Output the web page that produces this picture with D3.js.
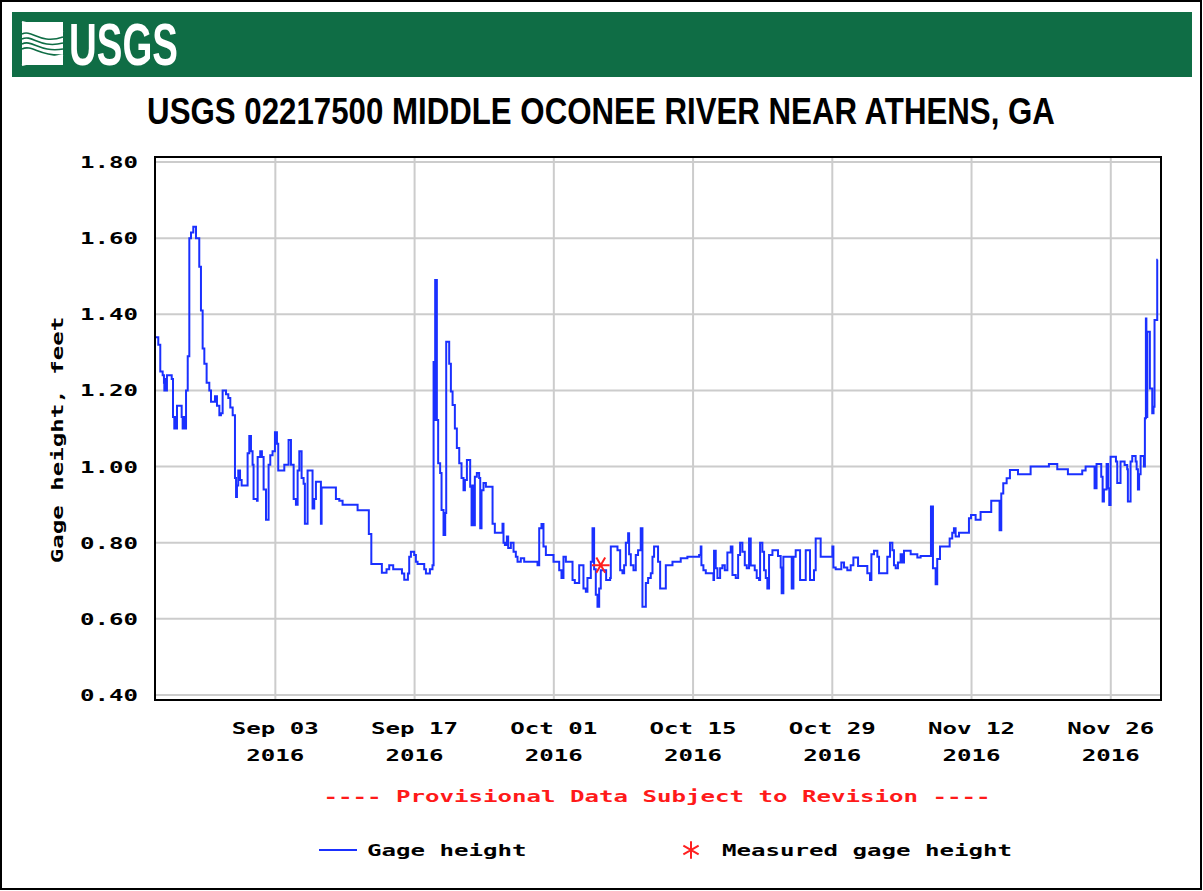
<!DOCTYPE html>
<html lang="en">
<head>
<meta charset="utf-8">
<title>USGS 02217500 Middle Oconee River near Athens, GA</title>
<style>
  body { margin: 0; background: #fff; }
  svg { display: block; }
  .mono { font-family: 'DejaVu Sans Mono', monospace; font-size: 16px; font-weight: bold; }
</style>
<script src="https://d3js.org/d3.v7.min.js" charset="utf-8"></script>
</head>
<body>
<svg id="chart" width="1203" height="891"></svg>
<script>
// ---- data ----
const startDate = "2016-08-22";
// days after startDate (00:00)
const dayOffset = [
  0.00, 0.23, 0.43, 0.67, 0.80, 0.84, 0.92, 0.97, 1.10, 1.58, 1.71, 1.84, 1.98, 2.05, 2.11,
  2.58, 2.68, 2.80, 2.86, 3.02, 3.19, 3.35, 3.52, 3.75, 4.02, 4.35, 4.52, 4.69, 4.86, 5.09,
  5.36, 5.53, 5.93, 6.13, 6.37, 6.53, 6.70, 7.04, 7.27, 7.47, 7.71, 7.94, 8.05, 8.14, 8.27,
  8.45, 8.61, 9.21, 9.38, 9.55, 9.71, 9.81, 10.15, 10.22, 10.48, 10.65, 10.82, 11.06, 11.32, 11.49,
  11.72, 11.96, 12.16, 12.29, 12.73, 12.90, 13.33, 13.57, 13.84, 14.07, 14.24, 14.41, 14.64, 14.84, 14.97,
  15.24, 15.74, 15.91, 16.08, 16.58, 16.65, 18.09, 18.43, 18.76, 20.27, 21.40, 21.65, 22.71, 23.18, 23.45,
  23.85, 24.73, 24.96, 25.33, 25.46, 25.63, 25.96, 26.13, 26.30, 26.97, 27.14, 27.54, 27.80, 27.91, 27.97,
  28.07, 28.24, 28.37, 28.57, 28.71, 28.91, 29.08, 29.18, 29.48, 29.65, 29.82, 30.05, 30.25, 30.49, 30.72,
  30.92, 31.06, 31.26, 31.59, 31.73, 31.80, 31.86, 32.06, 32.26, 32.49, 32.60, 32.73, 32.93, 33.17, 33.84,
  34.07, 34.84, 34.94, 35.08, 35.28, 35.41, 35.68, 35.95, 36.18, 36.35, 36.68, 37.02, 38.36, 38.53, 38.76,
  38.96, 39.20, 39.97, 40.54, 40.77, 40.97, 41.21, 41.88, 42.11, 42.55, 42.98, 43.22, 43.38, 43.72, 43.89,
  44.05, 44.22, 44.39, 44.56, 44.72, 45.26, 45.66, 45.73, 46.40, 46.67, 46.90, 47.07, 47.24, 47.47, 47.57,
  47.74, 48.01, 48.24, 48.47, 48.74, 48.91, 49.25, 49.48, 49.75, 49.92, 50.08, 50.48, 50.69, 51.26, 51.93,
  52.76, 53.43, 54.61, 54.77, 54.84, 55.04, 55.28, 56.05, 56.11, 56.28, 56.45, 56.72, 56.95, 57.19, 57.45,
  57.79, 57.96, 58.29, 58.53, 58.73, 58.96, 59.20, 59.40, 59.63, 59.80, 60.20, 60.40, 60.64, 60.74, 60.97,
  61.14, 61.31, 61.47, 61.64, 61.98, 62.54, 62.81, 62.91, 63.08, 63.92, 64.09, 64.32, 64.76, 65.33, 65.76,
  66.16, 66.33, 66.83, 68.01, 68.11, 68.34, 68.91, 69.18, 69.51, 69.85, 70.12, 70.59, 71.52, 71.79, 71.93,
  72.19, 72.53, 72.70, 73.53, 73.80, 74.04, 74.20, 74.37, 74.60, 74.87, 75.04, 75.21, 75.88, 76.55, 76.88,
  77.89, 77.92, 78.12, 78.39, 78.55, 78.83, 79.80, 80.06, 80.23, 80.40, 80.74, 81.74, 81.95, 82.41, 82.91,
  83.98, 84.82, 84.99, 85.19, 85.53, 85.86, 86.67, 87.94, 89.78, 90.62, 91.69, 93.13, 93.47, 94.37, 94.57,
  95.04, 95.18, 95.31, 95.58, 95.72, 95.85, 95.98, 96.52, 96.65, 96.98, 97.39, 97.65, 97.72, 97.99, 98.16,
  98.50, 98.60, 98.73, 98.85, 99.00, 99.33, 99.43, 99.53, 99.58, 99.67, 99.93, 100.17, 100.30, 100.40, 100.67,
  100.72
];
// gage height, feet
const gageFt = [
  1.34, 1.32, 1.25, 1.24, 1.22, 1.20, 1.23, 1.20, 1.24, 1.23, 1.13, 1.10, 1.13, 1.10, 1.16,
  1.13, 1.10, 1.13, 1.10, 1.20, 1.29, 1.60, 1.615, 1.63, 1.60, 1.525, 1.41, 1.31, 1.27, 1.22,
  1.20, 1.17, 1.185, 1.16, 1.135, 1.14, 1.20, 1.19, 1.18, 1.155, 1.135, 0.97, 0.92, 0.95, 0.99,
  0.965, 0.95, 1.035, 1.08, 1.04, 1.005, 0.915, 0.91, 1.025, 1.04, 1.025, 0.94, 0.86, 1.005, 1.03,
  1.04, 1.09, 1.06, 0.99, 0.99, 1.005, 1.07, 1.005, 0.915, 0.90, 0.99, 1.04, 0.97, 0.955, 0.85,
  0.99, 0.89, 0.915, 0.96, 0.85, 0.945, 0.915, 0.91, 0.90, 0.885, 0.823, 0.744, 0.721, 0.73, 0.741,
  0.73, 0.719, 0.703, 0.719, 0.763, 0.776, 0.768, 0.75, 0.744, 0.73, 0.719, 0.73, 0.741, 1.275, 1.122,
  1.49, 1.122, 1.009, 0.983, 0.886, 0.82, 0.878, 1.328, 1.27, 1.197, 1.162, 1.10, 1.049, 1.009, 0.97,
  0.938, 0.965, 1.017, 0.947, 0.846, 0.95, 0.846, 0.973, 0.983, 0.97, 0.838, 0.938, 0.957, 0.947, 0.85,
  0.826, 0.85, 0.80, 0.794, 0.816, 0.786, 0.80, 0.776, 0.763, 0.75, 0.759, 0.75, 0.741, 0.838, 0.849,
  0.79, 0.768, 0.75, 0.728, 0.707, 0.763, 0.75, 0.702, 0.694, 0.741, 0.68, 0.671, 0.707, 0.75, 0.838,
  0.73, 0.663, 0.632, 0.68, 0.728, 0.702, 0.707, 0.79, 0.78, 0.728, 0.72, 0.741, 0.80, 0.825, 0.77,
  0.741, 0.728, 0.768, 0.78, 0.838, 0.632, 0.694, 0.707, 0.72, 0.763, 0.79, 0.75, 0.68, 0.741, 0.75,
  0.759, 0.763, 0.768, 0.79, 0.741, 0.728, 0.72, 0.702, 0.779, 0.733, 0.707, 0.733, 0.741, 0.728, 0.774,
  0.79, 0.715, 0.707, 0.768, 0.80, 0.776, 0.741, 0.733, 0.811, 0.74, 0.728, 0.707, 0.702, 0.80, 0.776,
  0.728, 0.707, 0.68, 0.768, 0.78, 0.765, 0.735, 0.667, 0.763, 0.68, 0.763, 0.78, 0.702, 0.78, 0.702,
  0.728, 0.811, 0.763, 0.79, 0.735, 0.73, 0.748, 0.735, 0.728, 0.741, 0.761, 0.739, 0.72, 0.702, 0.77,
  0.779, 0.763, 0.72, 0.763, 0.80, 0.78, 0.741, 0.733, 0.748, 0.77, 0.748, 0.779, 0.77, 0.761, 0.765,
  0.765, 0.895, 0.733, 0.691, 0.757, 0.79, 0.811, 0.826, 0.838, 0.816, 0.826, 0.864, 0.873, 0.86, 0.881,
  0.91, 0.833, 0.929, 0.956, 0.969, 0.991, 0.98, 1.0, 1.007, 0.993, 0.98, 0.99, 1.0, 0.943, 1.007,
  0.973, 0.908, 0.94, 1.007, 0.943, 0.899, 1.026, 1.013, 0.957, 1.013, 1.004, 0.993, 0.908, 1.013, 1.028,
  1.013, 0.993, 0.94, 0.98, 1.028, 1.0, 1.127, 1.389, 1.13, 1.354, 1.205, 1.14, 1.157, 1.385, 1.543,
  1.543
];
// field measurement
const measuredDay = [44.72];
const measuredFt = [0.741];

const yTicks = [0.40, 0.60, 0.80, 1.00, 1.20, 1.40, 1.60, 1.80];
const xTickDates = ["2016-09-03", "2016-09-17", "2016-10-01", "2016-10-15", "2016-10-29", "2016-11-12", "2016-11-26"];
const xTickLabels = ["Sep 03", "Sep 17", "Oct 01", "Oct 15", "Oct 29", "Nov 12", "Nov 26"];
const xTickYears = ["2016", "2016", "2016", "2016", "2016", "2016", "2016"];

const CH = 14.5; // px per char of the mono labels

const parse = d3.utcParse("%Y-%m-%d");
const t0 = parse(startDate);
const toDate = d => new Date(t0.getTime() + d * 864e5);

const series = dayOffset.map((d, i) => ({ date: toDate(d), v: gageFt[i] }));
const measured = measuredDay.map((d, i) => ({ date: toDate(d), v: measuredFt[i] }));

const svg = d3.select("#chart");

// squeeze a text to a target width with a transform, anchored at (cx, by)
function fitText(sel, cx, by, w, anchor) {
  const n = sel.node().getComputedTextLength();
  const k = w / n;
  sel.attr("x", 0).attr("y", 0)
    .attr("transform", `translate(${cx},${by}) scale(${k},1)`)
    .attr("text-anchor", anchor);
}

// outer frame
svg.append("rect")
  .attr("x", 1).attr("y", 1).attr("width", 1200).attr("height", 888)
  .attr("fill", "#fff").attr("stroke", "#000").attr("stroke-width", 2);

// ---- header band with logo ----
svg.append("rect")
  .attr("x", 12).attr("y", 12).attr("width", 1180).attr("height", 65)
  .attr("fill", "#0f6d45");

const logo = svg.append("g");
logo.append("rect").attr("x", 22).attr("y", 22).attr("width", 41).attr("height", 43).attr("fill", "#fff");
[0, 1, 2, 3].forEach(k => {
  logo.append("path")
    .attr("d", `M22,${34 + k * 5} C32,${29 + k * 5} 40,${45 + k * 4} 63,${37 + k * 6}`)
    .attr("fill", "none").attr("stroke", "#0f6d45").attr("stroke-width", 1.6);
});
logo.append("path")
  .attr("d", "M22,22 L63,32 M22,65 L63,55")
  .attr("stroke", "#fff").attr("stroke-width", 2);
const usgs = logo.append("text")
  .style("font-family", "'Liberation Sans Narrow', 'Liberation Sans', sans-serif")
  .style("font-weight", "bold").style("font-size", "60px")
  .attr("fill", "#fff")
  .text("USGS");
fitText(usgs, 69, 65, 109, "start");

// title
const title = svg.append("text")
  .style("font-family", "'Liberation Sans Narrow', 'Liberation Sans', sans-serif")
  .style("font-weight", "bold").style("font-size", "37px")
  .text("USGS 02217500 MIDDLE OCONEE RIVER NEAR ATHENS, GA");
fitText(title, 601, 124, 908, "middle");

// ---- plot ----
const x = d3.scaleUtc().domain([t0, toDate(101.05)]).range([156, 1161]);
const y = d3.scaleLinear().domain([0.40, 1.80]).range([695, 162]);

const grid = svg.append("g").attr("stroke", "#cccccc").attr("stroke-width", 2);
grid.selectAll("line.h").data(yTicks).join("line")
  .attr("class", "h")
  .attr("x1", 156).attr("x2", 1160)
  .attr("y1", d => y(d)).attr("y2", d => y(d));
grid.selectAll("line.v").data(xTickDates).join("line")
  .attr("class", "v")
  .attr("x1", d => x(parse(d))).attr("x2", d => x(parse(d)))
  .attr("y1", 158).attr("y2", 699);

const line = d3.line()
  .x(d => x(d.date)).y(d => y(d.v))
  .curve(d3.curveStepAfter);

svg.append("path")
  .datum(series)
  .attr("d", line)
  .attr("fill", "none")
  .attr("stroke", "#1a30ff")
  .attr("stroke-width", 2);

const star = d3.symbol().type(d3.symbolAsterisk).size(220);
svg.selectAll("path.meas").data(measured).join("path")
  .attr("class", "meas")
  .attr("d", star)
  .attr("transform", d => `translate(${x(d.date)},${y(d.v)}) rotate(90)`)
  .attr("fill", "none").attr("stroke", "#ff2020").attr("stroke-width", 2);

svg.append("rect")
  .attr("x", 155).attr("y", 157).attr("width", 1006).attr("height", 543)
  .attr("fill", "none").attr("stroke", "#000").attr("stroke-width", 2);

// y tick labels
svg.selectAll("text.yt").data(yTicks).join("text")
  .attr("class", "mono yt")
  .attr("x", 138).attr("y", d => y(d) + 6)
  .attr("text-anchor", "end")
  .attr("textLength", 4 * CH).attr("lengthAdjust", "spacingAndGlyphs")
  .text(d => d.toFixed(2));

// x tick labels, two lines
svg.selectAll("text.xt").data(xTickDates).join("text")
  .attr("class", "mono xt")
  .attr("x", d => x(parse(d))).attr("y", 734)
  .attr("text-anchor", "middle")
  .attr("textLength", (d, i) => xTickLabels[i].length * CH).attr("lengthAdjust", "spacingAndGlyphs")
  .text((d, i) => xTickLabels[i]);
svg.selectAll("text.xy").data(xTickDates).join("text")
  .attr("class", "mono xy")
  .attr("x", d => x(parse(d))).attr("y", 761)
  .attr("text-anchor", "middle")
  .attr("textLength", (d, i) => xTickYears[i].length * CH).attr("lengthAdjust", "spacingAndGlyphs")
  .text((d, i) => xTickYears[i]);

// y axis title
const yTitle = "Gage height, feet";
svg.append("text")
  .attr("class", "mono")
  .attr("transform", "translate(63,440) rotate(-90)")
  .attr("text-anchor", "middle")
  .attr("textLength", yTitle.length * CH).attr("lengthAdjust", "spacingAndGlyphs")
  .text(yTitle);

// provisional note
const note = "---- Provisional Data Subject to Revision ----";
svg.append("text")
  .attr("class", "mono")
  .attr("x", 657).attr("y", 802)
  .attr("text-anchor", "middle")
  .attr("textLength", note.length * CH).attr("lengthAdjust", "spacingAndGlyphs")
  .attr("fill", "#ff1a1a")
  .text(note);

// legend
svg.append("line")
  .attr("x1", 319).attr("x2", 357).attr("y1", 850).attr("y2", 850)
  .attr("stroke", "#1a30ff").attr("stroke-width", 2);
svg.append("text")
  .attr("class", "mono")
  .attr("x", 367).attr("y", 856)
  .attr("textLength", 11 * CH).attr("lengthAdjust", "spacingAndGlyphs")
  .text("Gage height");
svg.append("path")
  .attr("d", star)
  .attr("transform", "translate(691,850)")
  .attr("fill", "none").attr("stroke", "#ff2020").attr("stroke-width", 2);
svg.append("text")
  .attr("class", "mono")
  .attr("x", 722).attr("y", 856)
  .attr("textLength", 20 * CH).attr("lengthAdjust", "spacingAndGlyphs")
  .text("Measured gage height");
</script>
</body>
</html>
